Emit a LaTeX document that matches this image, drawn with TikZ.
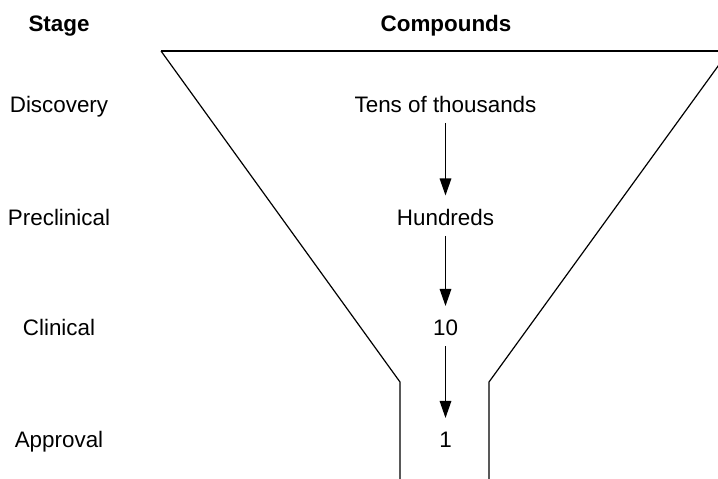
\documentclass[tikz,border=0pt]{standalone}
\usepackage{fontspec}
\setmainfont{Liberation Sans}
\usetikzlibrary{arrows.meta}
\begin{document}
\begin{tikzpicture}[x=1pt,y=1pt,
  lbl/.style={inner sep=0pt,anchor=base,font=\fontsize{22.4}{27}\selectfont},
  hdr/.style={lbl,font=\fontsize{22.4}{27}\selectfont\bfseries},
  funnel/.style={line width=1.2pt,black},
  arr/.style={line width=1.4pt,-{Triangle[length=17pt,width=11.5pt]}}]
\useasboundingbox (0,0) rectangle (718,479);
\begin{scope}
\clip (0,0) rectangle (718,479);
\coordinate (tl) at (161,428);
\coordinate (tr) at (729,428);
\coordinate (nl) at (400,97);
\coordinate (nr) at (489,97);
\coordinate (bl) at (400,-2);
\coordinate (br) at (489,-2);
\draw[funnel] (tl) -- (tr);
\draw[funnel,line join=miter] (tl) -- (nl) -- (bl);
\draw[funnel,line join=miter] (tr) -- (nr) -- (br);
\end{scope}
\node[hdr] (hs) at (59,447) {Stage};
\node[hdr] (hc) at (446,447) {Compounds};
\node[lbl] (s1) at (59,366.5) {Discovery};
\node[lbl] (s2) at (59,253.5) {Preclinical};
\node[lbl] (s3) at (59,143) {Clinical};
\node[lbl] (s4) at (59,31) {Approval};
\node[lbl] (c1) at (445.5,366.5) {Tens of thousands};
\node[lbl] (c2) at (445.5,253.5) {Hundreds};
\node[lbl] (c3) at (445.5,143) {10};
\node[lbl] (c4) at (445.5,31) {1};
\draw[arr] ([yshift=-10.5pt]c1.base) -- ([yshift=30pt]c2.base);
\draw[arr] ([yshift=-10.5pt]c2.base) -- ([yshift=30pt]c3.base);
\draw[arr] ([yshift=-10.5pt]c3.base) -- ([yshift=30pt]c4.base);
\end{tikzpicture}
\end{document}
